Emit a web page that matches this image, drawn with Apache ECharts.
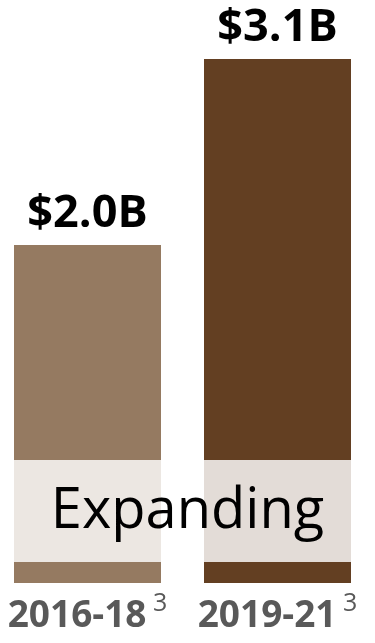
<!DOCTYPE html>
<html>
<head>
<meta charset="utf-8">
<script src="https://cdn.jsdelivr.net/npm/echarts@6/dist/echarts.min.js"></script>
<style>
  html, body { margin: 0; padding: 0; background: #ffffff; }
  #chart { width: 375px; height: 643px; }
</style>
</head>
<body>
<div id="chart"></div>
<script>
// Funding per period, in billions of dollars
const periods = ['2016-18', '2019-21'];
const footnotes = ['3', '3'];
const fundingB = [2.0, 3.1];
const barColors = ['#957a61', '#633f22'];
// "Expanding" band, as a value range on the funding axis
const bandFrom = 0.124;
const bandTo = 0.728;
const bandLabel = 'Expanding';

const chart = echarts.init(document.getElementById('chart'), null, { renderer: 'canvas' });

const FONT = '"Open Sans", sans-serif';

chart.setOption({
  animation: false,
  grid: { left: -7.5, width: 380, top: 59, bottom: 60, outerBoundsMode: 'none', containLabel: false },
  xAxis: {
    type: 'category',
    data: periods,
    axisLine: { show: false },
    axisTick: { show: false },
    axisLabel: {
      margin: 8,
      formatter: (v, i) => '{a|' + v + '}{s| ' + footnotes[i] + '}',
      rich: {
        a: { fontFamily: FONT, fontWeight: 'bold', fontSize: 37, color: '#595959', lineHeight: 44, verticalAlign: 'bottom' },
        s: { fontFamily: FONT, fontSize: 25, color: '#595959', lineHeight: 44, verticalAlign: 'top', padding: [0, 0, 26, 0] }
      }
    }
  },
  yAxis: {
    type: 'value',
    min: 0,
    max: 3.1,
    show: false,
    splitLine: { show: false }
  },
  series: [
    {
      type: 'bar',
      barWidth: 147,
      barGap: '-100%',
      data: fundingB.map((v, i) => ({ value: v, itemStyle: { color: barColors[i] } })),
      label: {
        show: true,
        position: 'top',
        distance: 8,
        formatter: p => '$' + p.value.toFixed(1) + 'B',
        fontFamily: FONT,
        fontWeight: 'bold',
        fontSize: 45,
        color: '#000000'
      },
      z: 2
    },
    {
      type: 'bar',
      stack: 'band',
      barWidth: 147,
      barGap: '-100%',
      data: periods.map(() => bandFrom),
      itemStyle: { color: 'rgba(0,0,0,0)' },
      silent: true,
      z: 3
    },
    {
      type: 'bar',
      stack: 'band',
      barWidth: 147,
      barGap: '-100%',
      data: periods.map(() => bandTo - bandFrom),
      itemStyle: { color: 'rgba(255,255,255,0.82)' },
      silent: true,
      z: 3
    }
  ]
});

// Centered caption across the band
function placeCaption() {
  const yMid = chart.convertToPixel({ yAxisIndex: 0 }, (bandFrom + bandTo) / 2);
  chart.setOption({
    graphic: [{
      type: 'text',
      left: 'center',
      top: yMid - 27,
      z: 10,
      style: {
        text: bandLabel,
        fontFamily: FONT,
        fontSize: 56,
        fill: '#000000'
      }
    }]
  });
}
placeCaption();
</script>
</body>
</html>
